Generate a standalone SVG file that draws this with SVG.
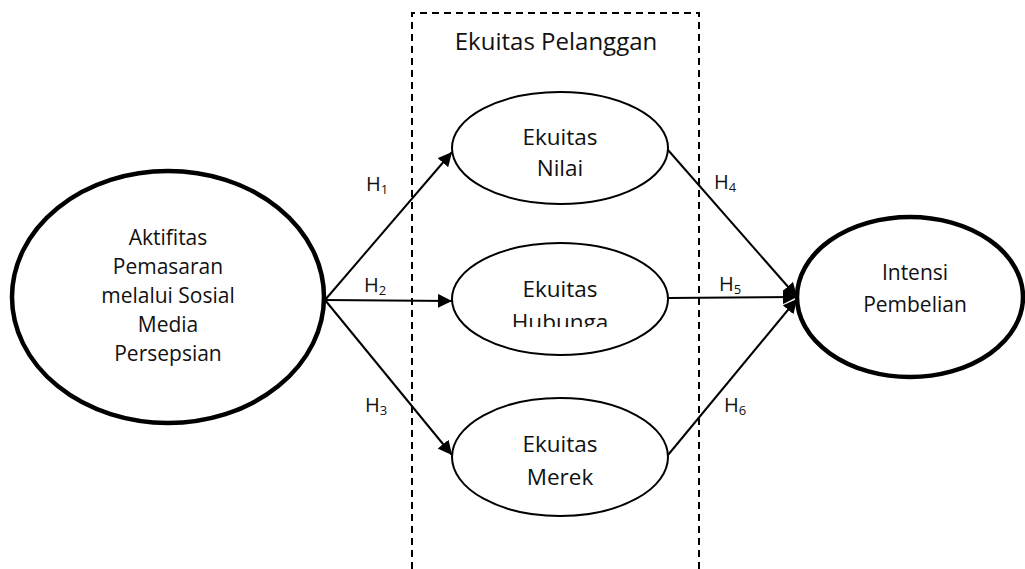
<svg xmlns="http://www.w3.org/2000/svg" width="1025" height="569" viewBox="0 0 1025 569">
<style>
text{font-family:"Open Sans","Liberation Sans",sans-serif;font-size:21px;fill:#111;text-anchor:middle}
.title{font-size:24px}
.nt{font-size:22.5px}
.lbl{text-anchor:start;font-size:20px}
.sub{font-size:13px}
.big{fill:#fff;stroke:#000;stroke-width:4.5}
.small{fill:#fff;stroke:#000;stroke-width:2}
.conn{stroke:#000;stroke-width:2;fill:none;marker-end:url(#ah)}
</style>
<defs>
<marker id="ah" viewBox="0 0 10 10" refX="10" refY="5" markerWidth="7" markerHeight="7" markerUnits="strokeWidth" orient="auto">
<path d="M0,0 L10,5 L0,10 z" fill="#000"/>
</marker>
<clipPath id="clipH"><rect x="452" y="250" width="216" height="77"/></clipPath>
</defs>
<rect width="1025" height="569" fill="#fff"/>
<g id="group-box">
<path d="M412,569 L412,13 L699,13 L699,569" fill="none" stroke="#000" stroke-width="2" stroke-dasharray="7,5"/>
<text class="title" x="556" y="50">Ekuitas Pelanggan</text>
</g>
<g id="connectors">
<line class="conn" x1="325" y1="300" x2="452" y2="152"/>
<line class="conn" x1="325" y1="300" x2="452" y2="301"/>
<line class="conn" x1="325" y1="300" x2="452" y2="455"/>
<line class="conn" x1="668" y1="150" x2="797" y2="297"/>
<line class="conn" x1="668" y1="298" x2="797" y2="297"/>
<line class="conn" x1="668" y1="455" x2="797" y2="299"/>
<text class="lbl" x="366" y="191">H<tspan class="sub" dy="3">1</tspan></text>
<text class="lbl" x="364" y="292">H<tspan class="sub" dy="3">2</tspan></text>
<text class="lbl" x="365" y="412">H<tspan class="sub" dy="3">3</tspan></text>
<text class="lbl" x="714" y="189">H<tspan class="sub" dy="3">4</tspan></text>
<text class="lbl" x="719" y="291">H<tspan class="sub" dy="3">5</tspan></text>
<text class="lbl" x="724" y="412">H<tspan class="sub" dy="3">6</tspan></text>
</g>
<g id="node-aktifitas">
<ellipse class="big" cx="168" cy="297" rx="156" ry="126"/>
<text x="168" y="245">Aktifitas</text>
<text x="168" y="274">Pemasaran</text>
<text x="168" y="303">melalui Sosial</text>
<text x="168" y="332">Media</text>
<text x="168" y="361">Persepsian</text>
</g>
<g id="node-nilai">
<ellipse class="small" cx="560" cy="148" rx="108" ry="56"/>
<text class="nt" x="560" y="145">Ekuitas</text>
<text class="nt" x="560" y="176">Nilai</text>
</g>
<g id="node-hubungan">
<ellipse class="small" cx="560" cy="299" rx="108" ry="56"/>
<text class="nt" x="560" y="297">Ekuitas</text>
<g clip-path="url(#clipH)"><text class="nt" x="560" y="330">Hubunga</text></g>
</g>
<g id="node-merek">
<ellipse class="small" cx="560" cy="457" rx="108" ry="59"/>
<text class="nt" x="560" y="452">Ekuitas</text>
<text class="nt" x="560" y="485">Merek</text>
</g>
<g id="node-intensi">
<ellipse class="big" cx="910" cy="297" rx="113" ry="80"/>
<text x="915" y="280">Intensi</text>
<text x="915" y="312">Pembelian</text>
</g>
</svg>
